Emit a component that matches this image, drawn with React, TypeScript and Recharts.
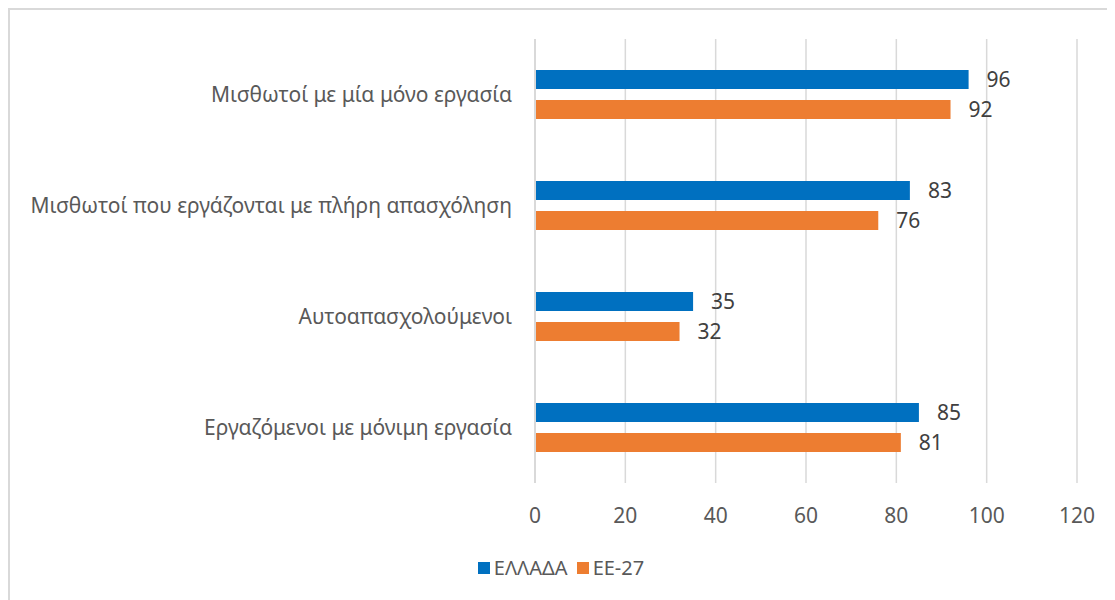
import { Bar, BarChart, CartesianGrid, LabelList, Legend, XAxis, YAxis } from "recharts";

const categories = [
  "Μισθωτοί με μία μόνο εργασία",
  "Μισθωτοί που εργάζονται με πλήρη απασχόληση",
  "Αυτοαπασχολούμενοι",
  "Εργαζόμενοι με μόνιμη εργασία",
];
const greece = [96, 83, 35, 85];
const eu27 = [92, 76, 32, 81];
const xTicks = [0, 20, 40, 60, 80, 100, 120];

const series = [
  { key: "greece", name: "ΕΛΛΑΔΑ", color: "#0070c0" },
  { key: "eu27", name: "ΕΕ-27", color: "#ed7d31" },
];

const data = categories.map((name, i) => ({
  name,
  greece: greece[i],
  eu27: eu27[i],
}));

const font = "'Noto Sans', 'Open Sans', sans-serif";

const LegendBox = () => (
  <div style={{ display: "flex", justifyContent: "center", gap: 9, fontSize: 20, color: "#595959", fontFamily: font }}>
    {series.map((s) => (
      <div key={s.key} style={{ display: "flex", alignItems: "center" }}>
        <span style={{ width: 12, height: 12, background: s.color, display: "inline-block", marginRight: 4 }} />
        <span>{s.name}</span>
      </div>
    ))}
  </div>
);

export default function App() {
  return (
    <div
      style={{
        width: 1107,
        height: 592,
        borderTop: "2px solid #d9d9d9",
        borderLeft: "2px solid #d9d9d9",
        fontFamily: font,
      }}
    >
      <BarChart
        width={1105}
        height={590}
        layout="vertical"
        data={data}
        barSize={19}
        barGap={11}
        margin={{ top: 29, right: 38, left: 0, bottom: 20 }}
      >
        <CartesianGrid horizontal={false} stroke="#d9d9d9" strokeWidth={1.5} />
        <XAxis
          type="number"
          domain={[0, 120]}
          ticks={xTicks}
          axisLine={false}
          tickLine={false}
          tickSize={0}
          tickMargin={25}
          height={70}
          tick={{ fill: "#595959", fontSize: 21, fontFamily: font }}
        />
        <YAxis
          dataKey="name"
          type="category"
          width={525}
          axisLine={{ stroke: "#d9d9d9", strokeWidth: 2 }}
          tickLine={false}
          tickSize={0}
          tickMargin={23}
          tick={{ fill: "#595959", fontSize: 21, fontFamily: font }}
        />
        <Legend
          verticalAlign="bottom"
          content={<LegendBox />}
          wrapperStyle={{ left: 0, width: 1102, bottom: 19 }}
        />
        {series.map((s) => (
          <Bar key={s.key} dataKey={s.key} name={s.name} fill={s.color} isAnimationActive={false}>
            <LabelList dataKey={s.key} position="right" offset={18} fill="#404040" fontSize={21} fontFamily={font} />
          </Bar>
        ))}
      </BarChart>
    </div>
  );
}
